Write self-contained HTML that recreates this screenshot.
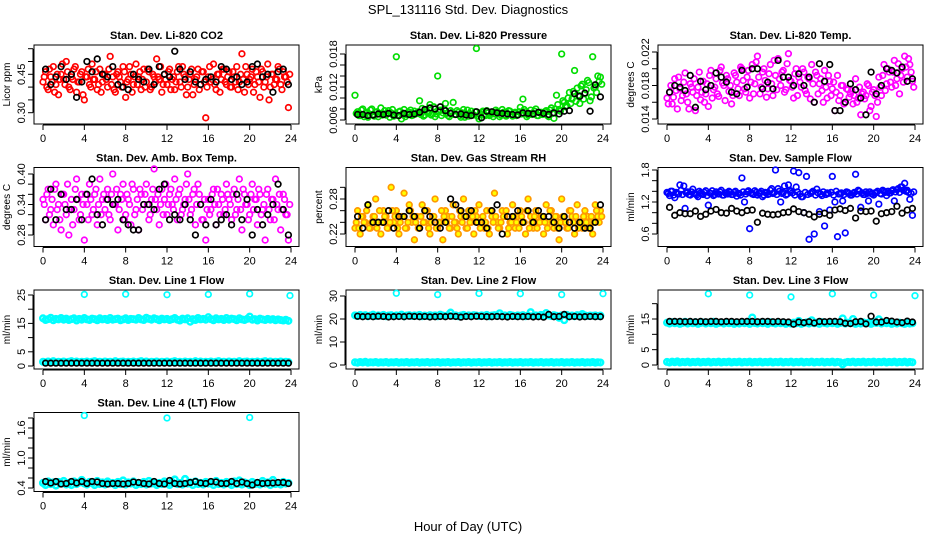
<!DOCTYPE html>
<html><head><meta charset="utf-8">
<style>
html,body{margin:0;padding:0;background:#fff;}
svg{display:block;font-family:"Liberation Sans",Arial,sans-serif;}
.ttl{font-size:11px;font-weight:bold;}
.tk{font-size:11px;}
.yl{font-size:10px;}
</style></head>
<body>
<svg id="chart" width="936" height="540" viewBox="0 0 936 540">
<text x="468" y="14" text-anchor="middle" font-size="13">SPL_131116  Std. Dev. Diagnostics</text>
<text x="468" y="531" text-anchor="middle" font-size="13">Hour of Day (UTC)</text>
</svg>
<script>
// ---- shared x ticks ----
const xTicks = [0,4,8,12,16,20,24];
// ---- CO2 ----
const co2Main = [0.42,0.46,0.39,0.44,0.48,0.41,0.37,0.45,0.43,0.50,0.40,0.44,0.47,0.38,0.42,0.46,0.35,0.44,0.41,0.49,0.43,0.39,0.47,0.42,
0.45,0.40,0.52,0.44,0.38,0.46,0.42,0.48,0.36,0.43,0.45,0.41,0.49,0.44,0.39,0.47,0.42,0.46,0.40,0.44,0.51,0.43,0.38,0.45,
0.41,0.47,0.43,0.39,0.46,0.42,0.48,0.44,0.40,0.45,0.37,0.43,0.47,0.41,0.46,0.28,0.44,0.42,0.49,0.39,0.45,0.43,0.47,0.41,
0.46,0.40,0.44,0.48,0.42,0.53,0.38,0.45,0.43,0.47,0.41,0.44,0.36,0.46,0.42,0.49,0.40,0.45,0.43,0.48,0.41,0.46,0.44,0.32];
const co2Main2 = [0.44,0.40,0.47,0.42,0.38,0.45,0.43,0.49,0.41,0.46,0.39,0.43,0.48,0.42,0.45,0.37,0.44,0.47,0.40,0.43,0.46,0.41,0.38,0.45,
0.43,0.47,0.41,0.39,0.45,0.44,0.40,0.46,0.42,0.48,0.38,0.44,0.41,0.46,0.43,0.40,0.47,0.39,0.45,0.42,0.44,0.48,0.41,0.43,
0.46,0.39,0.44,0.42,0.48,0.40,0.45,0.37,0.43,0.47,0.41,0.44,0.39,0.46,0.42,0.40,0.48,0.43,0.41,0.45,0.38,0.47,0.42,0.44,
0.40,0.46,0.42,0.39,0.45,0.43,0.48,0.41,0.44,0.38,0.46,0.42,0.47,0.40,0.44,0.35,0.45,0.41,0.43,0.47,0.39,0.44,0.42,0.45];
const co2Black = [0.47,0.41,0.44,0.48,0.43,0.45,0.36,0.42,0.50,0.46,0.51,0.45,0.44,0.48,0.41,0.40,0.39,0.45,0.43,0.42,0.47,0.41,0.48,0.45,0.44,0.54,0.47,0.43,0.46,0.42,0.41,0.43,0.44,0.42,0.48,0.47,0.43,0.44,0.41,0.42,0.48,0.49,0.44,0.45,0.38,0.46,0.47,0.41];
const co2Ticks = [0.30,0.35,0.40,0.45,0.50,0.55];
const co2Labels = ["0.30","","","0.45","",""];
// ---- Pressure ----
const presMain = [0.0105,0.0075,0.0068,0.0080,0.0072,0.0065,0.0078,0.0070,0.0074,0.0066,0.0082,0.0071,0.0069,0.0077,0.0073,0.0067,0.0175,0.0075,0.0062,0.0079,0.0070,0.0074,0.0068,0.0076,
0.0072,0.0095,0.0081,0.0069,0.0075,0.0088,0.0071,0.0066,0.0140,0.0078,0.0073,0.0090,0.0068,0.0077,0.0092,0.0070,0.0074,0.0065,0.0079,0.0071,0.0067,0.0076,0.0069,0.0190,
0.0062,0.0074,0.0070,0.0077,0.0068,0.0073,0.0071,0.0075,0.0066,0.0079,0.0069,0.0072,0.0076,0.0067,0.0074,0.0070,0.0083,0.0098,0.0075,0.0069,0.0078,0.0072,0.0080,0.0068,
0.0074,0.0071,0.0077,0.0066,0.0082,0.0063,0.0105,0.0079,0.0180,0.0092,0.0086,0.0110,0.0098,0.0150,0.0118,0.0090,0.0125,0.0108,0.0132,0.0095,0.0175,0.0120,0.0140,0.0138];
const presMain2 = [0.0072,0.0068,0.0078,0.0066,0.0074,0.0070,0.0080,0.0067,0.0075,0.0071,0.0069,0.0077,0.0073,0.0065,0.0079,0.0070,0.0068,0.0076,0.0072,0.0066,0.0074,0.0078,0.0069,0.0071,
0.0075,0.0070,0.0067,0.0079,0.0073,0.0069,0.0084,0.0071,0.0076,0.0068,0.0080,0.0072,0.0066,0.0074,0.0070,0.0077,0.0068,0.0073,0.0065,0.0078,0.0071,0.0069,0.0075,0.0067,
0.0071,0.0076,0.0068,0.0073,0.0070,0.0066,0.0078,0.0072,0.0069,0.0074,0.0067,0.0077,0.0070,0.0073,0.0068,0.0075,0.0071,0.0079,0.0066,0.0072,0.0070,0.0076,0.0068,0.0073,
0.0070,0.0075,0.0068,0.0078,0.0072,0.0080,0.0088,0.0076,0.0095,0.0084,0.0100,0.0090,0.0112,0.0094,0.0105,0.0122,0.0098,0.0115,0.0128,0.0102,0.0118,0.0110,0.0130,0.0125];
const presBlack = [0.0070,0.0070,0.0068,0.0069,0.0071,0.0070,0.0072,0.0069,0.0068,0.0072,0.0070,0.0071,0.0074,0.0079,0.0082,0.0080,0.0084,0.0077,0.0072,0.0070,0.0071,0.0069,0.0068,0.0075,0.0064,0.0076,0.0075,0.0073,0.0072,0.0071,0.0070,0.0069,0.0073,0.0072,0.0071,0.0074,0.0072,0.0070,0.0073,0.0071,0.0076,0.0077,0.0108,0.0103,0.0109,0.0076,0.0124,0.0102];
const presTicks = [0.006,0.008,0.010,0.012,0.014,0.016,0.018];
const presLabels = ["0.006","","","0.012","","","0.018"];
// ---- Li-820 Temp ----
const tempMain = [0.0165,0.0172,0.0158,0.0188,0.0152,0.0176,0.0168,0.0195,0.0160,0.0182,0.0172,0.0150,0.0178,0.0163,0.0185,0.0170,0.0155,0.0198,0.0175,0.0188,0.0167,0.0202,0.0180,0.0192,
0.0173,0.0158,0.0195,0.0184,0.0168,0.0200,0.0176,0.0190,0.0165,0.0205,0.0182,0.0215,0.0170,0.0196,0.0186,0.0176,0.0205,0.0168,0.0192,0.0212,0.0180,0.0198,0.0175,0.0218,
0.0185,0.0165,0.0200,0.0190,0.0178,0.0196,0.0170,0.0188,0.0205,0.0160,0.0192,0.0182,0.0174,0.0198,0.0165,0.0185,0.0176,0.0150,0.0192,0.0168,0.0180,0.0160,0.0175,0.0170,
0.0158,0.0188,0.0165,0.0145,0.0172,0.0168,0.0180,0.0155,0.0175,0.0143,0.0190,0.0168,0.0205,0.0182,0.0196,0.0178,0.0210,0.0188,0.0170,0.0200,0.0215,0.0190,0.0205,0.0185];
const tempMain2 = [0.0158,0.0180,0.0166,0.0174,0.0190,0.0162,0.0184,0.0170,0.0152,0.0178,0.0188,0.0168,0.0196,0.0172,0.0160,0.0182,0.0192,0.0165,0.0178,0.0170,0.0198,0.0183,0.0162,0.0188,
0.0180,0.0168,0.0192,0.0176,0.0202,0.0186,0.0172,0.0198,0.0184,0.0170,0.0208,0.0190,0.0178,0.0200,0.0166,0.0194,0.0182,0.0210,0.0175,0.0188,0.0196,0.0172,0.0206,0.0186,
0.0178,0.0194,0.0168,0.0184,0.0200,0.0174,0.0190,0.0164,0.0182,0.0196,0.0170,0.0188,0.0160,0.0178,0.0192,0.0168,0.0184,0.0172,0.0162,0.0180,0.0158,0.0176,0.0166,0.0174,
0.0168,0.0160,0.0178,0.0170,0.0164,0.0182,0.0150,0.0172,0.0168,0.0160,0.0178,0.0192,0.0174,0.0200,0.0184,0.0196,0.0180,0.0206,0.0192,0.0184,0.0202,0.0212,0.0196,0.0178];
const tempBlack = [0.0172,0.0180,0.0178,0.0174,0.0192,0.0154,0.0185,0.0175,0.0180,0.0195,0.0190,0.0184,0.0172,0.0170,0.0198,0.0178,0.0200,0.0200,0.0176,0.0184,0.0176,0.0210,0.0190,0.0190,0.0180,0.0194,0.0180,0.0190,0.0160,0.0206,0.0185,0.0205,0.0150,0.0150,0.0160,0.0182,0.0175,0.0165,0.0145,0.0196,0.0170,0.0180,0.0200,0.0198,0.0195,0.0202,0.0185,0.0188];
const tempTicks = [0.014,0.016,0.018,0.020,0.022];
const tempLabels = ["0.014","","0.018","","0.022"];
// ---- Amb box temp ----
const boxMain = [0.35,0.31,0.37,0.33,0.30,0.38,0.34,0.29,0.36,0.32,0.28,0.35,0.33,0.39,0.31,0.36,0.27,0.34,0.38,0.32,0.36,0.30,0.39,0.35,
0.33,0.37,0.31,0.40,0.34,0.29,0.36,0.38,0.32,0.35,0.30,0.37,0.33,0.29,0.36,0.34,0.38,0.31,0.35,0.41,0.33,0.30,0.37,0.35,
0.32,0.36,0.34,0.39,0.31,0.37,0.33,0.35,0.40,0.32,0.36,0.30,0.38,0.34,0.31,0.27,0.35,0.33,0.37,0.30,0.34,0.36,0.32,0.38,
0.35,0.31,0.37,0.33,0.39,0.29,0.36,0.34,0.32,0.38,0.35,0.30,0.36,0.33,0.27,0.37,0.31,0.35,0.39,0.33,0.29,0.36,0.32,0.27];
const boxMain2 = [0.34,0.36,0.32,0.35,0.37,0.33,0.31,0.36,0.34,0.38,0.33,0.30,0.37,0.35,0.32,0.34,0.36,0.31,0.35,0.33,0.37,0.34,0.32,0.36,
0.35,0.32,0.36,0.34,0.37,0.33,0.35,0.31,0.36,0.34,0.38,0.32,0.35,0.37,0.33,0.36,0.34,0.32,0.37,0.35,0.36,0.34,0.32,0.38,
0.34,0.37,0.33,0.35,0.36,0.32,0.34,0.38,0.35,0.33,0.37,0.34,0.36,0.31,0.35,0.33,0.32,0.36,0.34,0.37,0.32,0.35,0.33,0.36,
0.34,0.36,0.32,0.35,0.33,0.37,0.34,0.31,0.36,0.33,0.35,0.37,0.32,0.34,0.36,0.33,0.35,0.31,0.34,0.36,0.33,0.35,0.32,0.34];
const boxBlack = [0.31,0.37,0.31,0.36,0.33,0.33,0.35,0.31,0.36,0.39,0.32,0.30,0.35,0.34,0.35,0.31,0.30,0.29,0.29,0.34,0.34,0.33,0.37,0.38,0.31,0.32,0.31,0.34,0.31,0.28,0.34,0.30,0.35,0.30,0.31,0.32,0.30,0.36,0.31,0.35,0.28,0.33,0.30,0.32,0.34,0.38,0.33,0.28];
const boxTicks = [0.28,0.30,0.32,0.34,0.36,0.38,0.40];
const boxLabels = ["0.28","","","0.34","","","0.40"];
// ---- Gas stream RH ----
const rhMain = [0.23,0.26,0.22,0.25,0.24,0.27,0.23,0.25,0.28,0.24,0.22,0.26,0.25,0.23,0.30,0.24,0.26,0.22,0.25,0.29,0.23,0.27,0.24,0.21,
0.25,0.23,0.27,0.24,0.26,0.22,0.25,0.28,0.23,0.24,0.21,0.26,0.25,0.23,0.27,0.24,0.22,0.25,0.28,0.23,0.26,0.24,0.22,0.25,
0.27,0.24,0.23,0.26,0.22,0.25,0.29,0.24,0.23,0.26,0.25,0.22,0.24,0.27,0.23,0.25,0.26,0.24,0.22,0.28,0.25,0.23,0.26,0.24,
0.25,0.22,0.27,0.24,0.26,0.23,0.25,0.21,0.28,0.24,0.23,0.26,0.25,0.22,0.27,0.24,0.23,0.26,0.25,0.24,0.22,0.27,0.25,0.26];
const rhMain2 = [0.24,0.23,0.25,0.24,0.26,0.23,0.24,0.25,0.23,0.26,0.24,0.25,0.23,0.24,0.26,0.25,0.23,0.24,0.25,0.23,0.24,0.26,0.25,0.24,
0.23,0.25,0.24,0.26,0.23,0.24,0.25,0.23,0.24,0.26,0.25,0.24,0.23,0.25,0.24,0.23,0.26,0.24,0.25,0.23,0.24,0.25,0.26,0.24,
0.23,0.25,0.24,0.23,0.26,0.24,0.25,0.23,0.24,0.25,0.26,0.23,0.24,0.25,0.24,0.23,0.25,0.24,0.26,0.23,0.24,0.25,0.23,0.24,
0.25,0.24,0.23,0.26,0.24,0.25,0.23,0.24,0.25,0.24,0.23,0.26,0.24,0.25,0.23,0.24,0.25,0.24,0.23,0.25,0.24,0.26,0.24,0.25];
const rhBlack = [0.25,0.23,0.27,0.24,0.24,0.24,0.26,0.23,0.25,0.25,0.26,0.25,0.23,0.26,0.25,0.24,0.23,0.24,0.28,0.27,0.26,0.25,0.26,0.24,0.24,0.23,0.26,0.27,0.22,0.25,0.25,0.26,0.24,0.26,0.24,0.26,0.25,0.25,0.24,0.23,0.25,0.24,0.23,0.24,0.23,0.23,0.24,0.27];
const rhTicks = [0.22,0.24,0.26,0.28,0.30];
const rhLabels = ["0.22","","","0.28",""];
// ---- Sample flow ----
const sfMain = [1.38,1.32,1.40,1.28,1.36,1.52,1.34,1.08,1.39,1.33,1.44,1.35,1.30,1.37,1.34,1.41,1.14,1.36,1.32,1.39,1.35,1.42,1.33,1.37,
1.40,1.34,1.38,1.31,1.36,1.65,1.20,1.39,0.70,1.35,1.41,1.33,1.37,1.30,1.38,1.34,1.42,1.36,1.80,1.45,1.20,1.38,1.33,1.52,
1.40,1.78,1.48,1.75,1.30,1.00,1.68,0.50,1.38,0.60,1.44,1.02,1.32,0.75,1.37,1.05,1.68,1.20,0.55,1.35,1.22,0.62,1.38,1.33,
1.36,1.72,1.42,1.10,1.34,1.39,1.22,1.36,1.33,1.38,1.16,1.35,1.40,1.32,1.37,1.41,1.22,1.43,1.38,1.48,1.55,1.42,1.25,0.95];
const sfMain2 = [1.36,1.40,1.33,1.38,1.35,1.42,1.50,1.37,1.34,1.39,1.36,1.33,1.40,1.35,1.38,1.32,1.37,1.41,1.34,1.36,1.39,1.33,1.37,1.35,
1.38,1.34,1.40,1.36,1.33,1.39,1.35,1.41,1.37,1.34,1.38,1.36,1.40,1.33,1.37,1.35,1.45,1.38,1.34,1.40,1.36,1.50,1.35,1.42,
1.37,1.33,1.39,1.35,1.30,1.38,1.34,1.36,1.40,1.33,1.37,1.35,1.39,1.34,1.36,1.38,1.33,1.40,1.35,1.37,1.34,1.39,1.36,1.33,
1.38,1.35,1.40,1.37,1.34,1.36,1.39,1.35,1.37,1.40,1.36,1.42,1.38,1.40,1.37,1.43,1.39,1.45,1.48,1.42,1.40,1.38,1.36,1.39];
const sfBlack = [1.10,0.95,1.00,0.98,0.98,1.03,0.93,0.97,1.03,1.06,1.00,0.99,1.08,1.03,1.00,1.04,1.05,0.82,0.99,0.97,0.96,0.97,1.00,1.01,1.07,1.02,1.00,0.97,0.92,0.97,0.99,0.95,1.05,1.07,1.04,1.08,0.90,1.03,1.02,1.03,0.84,0.98,1.00,1.02,1.12,0.99,1.05,1.08];
const sfTicks = [0.6,0.8,1.0,1.2,1.4,1.6,1.8];
const sfLabels = ["0.6","","","1.2","","","1.8"];
// ---- Line 1 ----
const l1High = [16.8,16.2,16.5,17.0,16.1,16.6,16.4,16.9,16.3,16.7,16.2,16.5,16.8,16.0,16.6,16.3,16.9,16.4,16.2,16.7,16.5,16.1,16.8,16.4,
16.6,16.2,16.9,16.3,16.5,16.7,16.1,16.4,16.8,16.2,16.6,16.5,16.3,16.9,16.4,16.2,17.0,16.6,16.3,16.8,16.5,16.1,16.7,16.4,
16.6,16.2,16.5,16.9,16.3,16.0,16.7,16.4,16.8,15.6,16.5,16.2,16.9,16.4,16.6,16.3,17.2,16.5,16.1,16.8,16.4,16.6,16.2,16.9,
16.3,16.7,16.5,16.1,16.8,16.4,16.2,16.6,17.4,16.3,16.5,16.0,16.7,16.4,16.2,16.6,16.3,16.5,16.1,16.4,16.2,16.0,16.3,15.9];
const l1Low = [1.5,1.3,1.6,1.4,1.7,1.3,1.5,1.4,1.6,1.3,1.5,1.7,1.4,1.6,1.3,1.5,1.4,1.6,1.3,1.5,1.7,1.4,1.5,1.3,
1.6,1.4,1.5,1.3,1.7,1.4,1.5,1.6,1.3,1.5,1.4,1.6,1.3,1.5,1.7,1.4,1.6,1.3,1.5,1.4,1.6,1.3,1.5,1.4,
1.6,1.3,1.5,1.7,1.4,1.5,1.3,1.6,1.4,1.5,1.3,1.7,1.4,1.6,1.3,1.5,1.4,1.6,1.3,1.5,1.7,1.4,1.5,1.3,
1.6,1.4,1.5,1.3,1.7,1.4,1.5,1.6,1.3,1.5,1.4,1.6,1.3,1.5,1.7,1.4,1.6,1.3,1.5,1.4,1.6,1.3,1.5,1.4];
const l1Black = [1.0,1.0,1.0,1.0,1.0,1.0,1.0,1.0,1.0,1.0,1.0,1.0,1.0,1.0,1.0,1.0,1.0,1.0,1.0,1.0,1.0,1.0,1.0,1.0,1.0,1.0,1.0,1.0,1.0,1.0,1.0,1.0,1.0,1.0,1.0,1.0,1.0,1.0,1.0,1.0,1.0,1.0,1.0,1.0,1.0,1.0,1.0,1.0];
const l1OutT = [4,8,12,16,20,23.9];
const l1OutV = [25.2,25.3,25.1,25.2,25.4,24.8];
const l1Ticks = [0,5,10,15,20,25];
const l1Labels = ["0","5","","15","","25"];
// ---- Line 2 ----
const l2High = [21.6,21.3,21.8,21.4,21.7,21.2,21.5,21.9,21.3,21.6,21.4,21.8,21.2,21.5,21.7,21.3,21.6,21.4,21.9,21.2,21.5,21.7,21.3,21.6,
21.4,21.8,21.2,21.5,21.3,21.7,21.4,21.6,21.2,21.9,21.5,21.3,21.7,22.8,21.4,21.6,21.2,21.5,21.8,21.3,21.6,21.4,21.7,21.5,
21.3,21.6,21.4,21.8,21.2,21.5,21.7,21.3,22.5,21.4,21.6,21.2,21.8,21.5,21.3,21.6,21.4,21.7,21.2,21.5,23.0,21.3,21.6,21.4,
21.8,21.2,22.6,21.5,21.3,21.7,21.4,20.5,21.6,19.5,21.8,21.3,21.5,21.2,21.7,21.4,22.2,21.6,21.3,21.5,21.4,21.6,21.3,21.5];
const l2Low = [1.2,1.0,1.3,1.1,1.4,1.0,1.2,1.1,1.3,1.0,1.2,1.1,1.3,1.0,1.2,1.1,1.3,1.0,1.2,1.1,1.3,1.0,1.2,1.1,
1.3,1.0,1.2,1.1,1.3,1.0,1.2,1.1,1.3,1.0,1.2,1.1,1.3,1.0,1.2,1.1,1.3,1.0,1.2,1.1,1.3,1.0,1.2,1.1,
1.3,1.0,1.2,1.1,1.3,1.0,1.2,1.1,1.3,1.0,1.2,1.1,1.3,1.0,1.2,1.1,1.3,1.0,1.2,1.1,1.3,1.0,1.2,1.1,
1.3,1.0,1.2,1.1,1.3,1.0,1.2,1.1,1.3,1.0,1.2,1.1,1.3,1.0,1.2,1.1,1.3,1.0,1.2,1.1,1.3,1.0,1.2,1.1];
const l2Black = [21.2,21.0,21.1,21.0,21.2,21.1,20.9,21.0,21.1,21.0,21.2,21.1,21.0,21.1,20.9,21.0,21.1,21.0,21.2,21.1,20.8,21.1,21.0,21.2,21.1,21.0,21.0,21.1,21.0,20.9,21.1,21.0,21.0,21.1,20.9,21.0,20.8,22.0,21.0,21.1,22.0,21.0,21.1,20.9,21.0,21.1,21.0,21.0];
const l2OutT = [4,8,12,16,20,24];
const l2OutV = [31.2,30.6,31.1,31.0,30.6,31.0];
const l2Ticks = [0,10,20,30];
const l2Labels = ["0","10","20","30"];
// ---- Line 3 ----
const l3High = [13.8,13.5,14.0,13.6,13.9,13.4,13.7,14.1,13.5,13.8,13.6,14.0,13.4,13.7,13.9,13.5,13.8,13.6,14.1,13.4,13.7,13.9,13.5,13.8,
13.6,14.0,13.4,13.7,13.5,13.9,13.6,13.8,13.4,15.5,13.7,13.5,13.9,13.6,13.8,13.4,14.0,13.7,13.5,13.8,13.6,13.9,13.4,13.7,
13.5,13.8,13.6,14.4,13.4,13.7,13.9,13.5,14.6,13.6,13.8,13.4,14.0,13.7,13.5,13.8,13.6,13.9,13.4,13.7,15.2,13.5,13.8,13.6,
15.0,13.4,13.7,13.5,13.9,13.6,13.8,13.4,14.0,13.7,14.9,13.5,13.8,13.6,13.9,13.4,13.7,13.5,13.8,13.6,13.4,13.7,13.5,13.6];
const l3Low = [1.0,0.8,1.1,0.9,1.2,0.8,1.0,0.9,1.1,0.8,1.0,0.9,1.1,0.8,1.0,0.9,1.1,0.8,1.0,0.9,1.1,0.8,1.0,0.9,
1.1,0.8,1.0,0.9,1.1,0.8,1.0,0.9,1.1,0.8,1.0,0.9,1.1,0.8,1.0,0.9,1.1,0.8,1.0,0.9,1.1,0.8,1.0,0.9,
1.1,0.8,1.0,0.9,1.1,0.8,1.0,0.9,1.1,0.8,1.0,0.9,1.1,0.8,1.0,0.9,1.1,0.8,1.0,0.9,0.2,0.8,1.0,0.9,
1.1,0.8,1.0,0.9,1.1,0.8,1.0,0.9,1.1,0.8,1.0,0.9,1.1,0.8,1.0,0.9,1.1,0.8,1.0,0.9,1.1,0.8,1.0,0.9];
const l3Black = [14.2,14.2,14.2,14.1,14.2,14.1,14.2,14.1,14.2,14.2,14.1,14.2,14.2,14.1,14.2,14.2,14.2,14.1,14.2,14.2,14.1,14.2,14.1,14.0,13.3,14.0,13.8,14.1,13.7,14.2,14.1,14.2,14.2,14.1,13.6,13.5,14.1,14.2,13.4,15.9,14.0,14.0,14.5,14.3,14.0,13.8,14.3,14.0];
const l3OutT = [4,8,12,16,20,24];
const l3OutV = [23.2,22.8,22.2,23.2,22.8,22.6];
const l3Ticks = [0,5,10,15,20];
const l3Labels = ["0","5","","15",""];
// ---- Line 4 ----
const l4High = [0.50,0.46,0.53,0.48,0.51,0.45,0.52,0.49,0.54,0.47,0.50,0.46,0.53,0.48,0.51,0.56,0.49,0.47,0.52,0.50,0.46,0.54,0.48,0.51,
0.47,0.53,0.49,0.50,0.46,0.52,0.48,0.55,0.47,0.51,0.49,0.53,0.46,0.50,0.48,0.52,0.47,0.54,0.49,0.51,0.46,0.50,0.48,0.53,
0.49,0.46,0.52,0.57,0.48,0.50,0.47,0.58,0.49,0.51,0.46,0.53,0.48,0.50,0.47,0.52,0.49,0.51,0.46,0.54,0.48,0.50,0.47,0.52,
0.49,0.46,0.53,0.48,0.55,0.47,0.51,0.49,0.46,0.52,0.48,0.50,0.47,0.54,0.49,0.51,0.46,0.56,0.48,0.50,0.47,0.52,0.49,0.50];
const l4Black = [0.53,0.50,0.53,0.48,0.49,0.53,0.50,0.53,0.49,0.53,0.52,0.49,0.48,0.49,0.49,0.48,0.49,0.52,0.51,0.49,0.48,0.53,0.49,0.48,0.55,0.49,0.48,0.49,0.51,0.53,0.50,0.49,0.53,0.52,0.49,0.49,0.53,0.49,0.52,0.49,0.46,0.51,0.49,0.50,0.50,0.51,0.51,0.49];
const l4OutT = [4,12,20];
const l4OutV = [1.85,1.80,1.81];
const l4Ticks = [0.4,0.6,0.8,1.0,1.2,1.4,1.6,1.8];
const l4Labels = ["0.4","","","1.0","","","1.6",""];

const svg = document.getElementById('chart');
const NS = 'http://www.w3.org/2000/svg';
function mk(tag, attrs, parent){ const e=document.createElementNS(NS,tag); for(const k in attrs) e.setAttribute(k,attrs[k]); (parent||svg).appendChild(e); return e; }

function panel(name, col, row, title, ylab, ticks, labels, v0, p0, v1, p1){
  const off = 122.5*row;
  const L = 34+312*col, R = 299+312*col, T = 45+off, B = 124+off;
  const g = mk('g',{});
  
  
  const xs = h => 43+312*col + h*(248/24);
  const ys = v => off + p0 + (v-v0)*(p1-p0)/(v1-v0);
  const t = mk('text',{x:(L+R)/2,y:T-6,'text-anchor':'middle','class':'ttl'},g);
  t.textContent = title;
  
  
  const box = mk('rect',{x:L,y:T,width:R-L,height:B-T,fill:'none',stroke:'#000','stroke-width':1},g);
  
  
  const xa = mk('g',{},g);
  
  
  mk('line',{x1:xs(0),x2:xs(24),y1:B+1,y2:B+1,stroke:'#000'},xa);
  xTicks.forEach(h=>{
    mk('line',{x1:xs(h),x2:xs(h),y1:B+1,y2:B+6,stroke:'#000'},xa);
    const tx = mk('text',{x:xs(h),y:B+18,'text-anchor':'middle','class':'tk'},xa);
    tx.textContent = String(h);
  });
  const ya = mk('g',{},g);
  
  
  mk('line',{x1:L-1,x2:L-1,y1:ys(ticks[0]),y2:ys(ticks[ticks.length-1]),stroke:'#000'},ya);
  ticks.forEach((v,i)=>{
    const y = ys(v);
    mk('line',{x1:L-6,x2:L-1,y1:y,y2:y,stroke:'#000'},ya);
    if(labels[i]){
      const tx = mk('text',{x:L-9,y:y,'text-anchor':'middle','class':'tk',transform:`rotate(-90 ${L-9} ${y})`},ya);
      tx.textContent = labels[i];
    }
  });
  const yt = mk('text',{x:L-24,y:(T+B)/2,'text-anchor':'middle','class':'yl',transform:`rotate(-90 ${L-24} ${(T+B)/2})`},g);
  yt.textContent = ylab;
  
  
  return {g, xs, ys};
}
function series(p, name, times, vals, color, fill, sw){
  const g = mk('g',{},p.g);
  
  
  vals.forEach((v,i)=>{
    mk('circle',{cx:p.xs(times[i]).toFixed(2),cy:p.ys(v).toFixed(2),r:2.8,fill:fill||'none',stroke:color,'stroke-width':sw||1.7},g);
  });
}
const tMain = co2Main.map((_,i)=>i*0.25);
const tMain2 = co2Main2.map((_,i)=>0.125+i*0.25);
const tBlack = co2Black.map((_,i)=>0.25+i*0.5);

let p;
p = panel('co2',0,0,'Stan. Dev. Li-820 CO2','Licor ppm',co2Ticks,co2Labels,0.30,112.7,0.55,48.7);
series(p,'co2-red-points',tMain,co2Main,'#ff0000'); series(p,'co2-red-points-b',tMain2,co2Main2,'#ff0000'); series(p,'co2-black-points',tBlack,co2Black,'#000');
p = panel('pressure',1,0,'Stan. Dev. Li-820 Pressure','kPa',presTicks,presLabels,0.006,120,0.018,54);
series(p,'pressure-green-points',tMain,presMain,'#00dd00'); series(p,'pressure-green-points-b',tMain2,presMain2,'#00dd00'); series(p,'pressure-black-points',tBlack,presBlack,'#000');
p = panel('li820-temp',2,0,'Stan. Dev. Li-820 Temp.','degrees C',tempTicks,tempLabels,0.014,119,0.022,52);
series(p,'temp-magenta-points',tMain,tempMain,'#ff00ff'); series(p,'temp-magenta-points-b',tMain2,tempMain2,'#ff00ff'); series(p,'temp-black-points',tBlack,tempBlack,'#000');
p = panel('box-temp',0,1,'Stan. Dev. Amb. Box Temp.','degrees C',boxTicks,boxLabels,0.28,112.5,0.40,51.5);
series(p,'box-temp-magenta-points',tMain,boxMain,'#ff00ff'); series(p,'box-temp-magenta-points-b',tMain2,boxMain2,'#ff00ff'); series(p,'box-temp-black-points',tBlack,boxBlack,'#000');
p = panel('rh',1,1,'Stan. Dev. Gas Stream RH','percent',rhTicks,rhLabels,0.22,111.5,0.28,76.5);
series(p,'rh-orange-points',tMain,rhMain,'#ff9900','#ffff00'); series(p,'rh-orange-points-b',tMain2,rhMain2,'#ff9900','#ffff00'); series(p,'rh-black-points',tBlack,rhBlack,'#000');
p = panel('sample-flow',2,1,'Stan. Dev. Sample Flow','ml/min',sfTicks,sfLabels,0.6,111.5,1.8,47.5);
series(p,'sample-flow-blue-points',tMain,sfMain,'#0000ff'); series(p,'sample-flow-blue-points-b',tMain2,sfMain2,'#0000ff'); series(p,'sample-flow-black-points',tBlack,sfBlack,'#000');
p = panel('line1',0,2,'Stan. Dev. Line 1 Flow','ml/min',l1Ticks,l1Labels,0,121,25,50);
series(p,'line1-cyan-high',tMain,l1High,'#00ffff',null,2.4); series(p,'line1-cyan-low',tMain,l1Low,'#00ffff',null,2.4);
series(p,'line1-cyan-outliers',l1OutT,l1OutV,'#00ffff'); series(p,'line1-black-points',tBlack,l1Black,'#000');
p = panel('line2',1,2,'Stan. Dev. Line 2 Flow','ml/min',l2Ticks,l2Labels,0,120,30,51);
series(p,'line2-cyan-high',tMain,l2High,'#00ffff',null,2.4); series(p,'line2-cyan-low',tMain,l2Low,'#00ffff',null,2.4);
series(p,'line2-cyan-outliers',l2OutT,l2OutV,'#00ffff'); series(p,'line2-black-points',tBlack,l2Black,'#000');
p = panel('line3',2,2,'Stan. Dev. Line 3 Flow','ml/min',l3Ticks,l3Labels,0,120,15,74);
series(p,'line3-cyan-high',tMain,l3High,'#00ffff',null,2.4); series(p,'line3-cyan-low',tMain,l3Low,'#00ffff',null,2.4);
series(p,'line3-cyan-outliers',l3OutT,l3OutV,'#00ffff'); series(p,'line3-black-points',tBlack,l3Black,'#000');
p = panel('line4',0,3,'Stan. Dev. Line 4 (LT) Flow','ml/min',l4Ticks,l4Labels,0.4,120.5,1.6,60.5);
series(p,'line4-cyan-band',tMain,l4High,'#00ffff',null,2.6);
series(p,'line4-cyan-outliers',l4OutT,l4OutV,'#00ffff'); series(p,'line4-black-points',tBlack,l4Black,'#000');
</script>
</body></html>
